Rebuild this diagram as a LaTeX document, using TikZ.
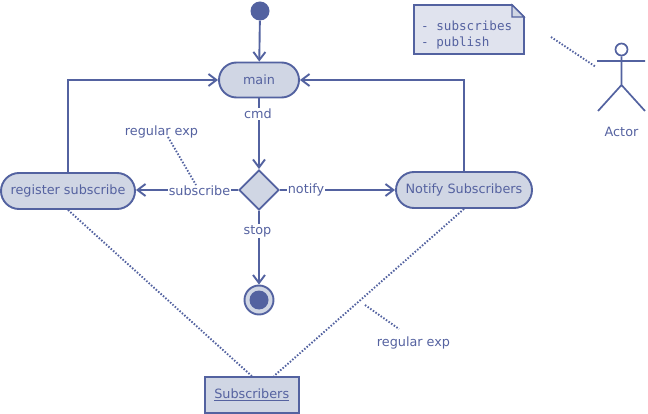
\documentclass[tikz,border=0pt]{standalone}
\usepackage{fontspec}
\setmainfont{DejaVu Sans}
\setmonofont{DejaVu Sans Mono}
\usetikzlibrary{arrows.meta,shapes.misc,shapes.geometric,calc}
\definecolor{umlline}{HTML}{5362A0}
\definecolor{umlfill}{HTML}{D0D6E4}
\definecolor{umlnote}{HTML}{E0E3EE}
\definecolor{umltext}{HTML}{5562A0}
\tikzset{
  x=1pt,y=-1pt,
  every node/.style={text=umltext,font=\fontsize{12.8}{15}\selectfont},
  lane/.style={draw=umlline,line width=1.9pt},
  flow/.style={lane,-{Straight Barb[length=8pt,width=12pt,line width=1.9pt]}},
  dots/.style={draw=umlline,line width=1.9pt,dash pattern=on 1.5pt off 1.7pt},
  activity/.style={rounded rectangle,lane,fill=umlfill,minimum height=36pt,inner sep=0pt},
  edgelabel/.style={inner sep=1pt},
  freelabel/.style={inner sep=0pt},
}
\begin{document}
\begin{tikzpicture}
\useasboundingbox (0,0) rectangle (648,414);
% activities
\node[circle,fill=umlline,minimum size=19pt,inner sep=0pt] (start) at (260,11) {};
\node[activity,minimum width=80pt,minimum height=35pt] (main) at (259,80) {\raisebox{-0.5pt}{main}};
\node[activity,minimum width=134pt] (reg) at (68,191) {\raisebox{-0.5pt}{register subscribe}};
\node[activity,minimum width=136pt] (notify) at (464,190) {\raisebox{-0.5pt}{Notify Subscribers}};
\node[diamond,lane,fill=umlfill,minimum width=40pt,minimum height=40pt,inner sep=0pt] (choice) at (259,190) {};
\node[circle,lane,fill=umlfill,minimum size=29pt,inner sep=0pt] (stopnode) at (259,300) {};
\node[circle,fill=umlline,minimum size=19pt,inner sep=0pt] (stopdot) at (259,300) {};
\node[rectangle,lane,fill=umlfill,minimum width=94pt,minimum height=36pt,inner sep=0pt] (sub) at (251.75,395) {\underline{Subscribers}};
% note
\draw[lane,fill=umlnote,line join=miter] (414,5) -- (512,5) -- (524,17) -- (524,54) -- (414,54) -- cycle;
\draw[draw=umlline,line width=1.4pt,fill=umlfill] (512,5) -- (512,17) -- (524,17) -- cycle;
\node[anchor=north west,align=left,inner sep=0pt,font=\fontsize{12.6}{16}\ttfamily\selectfont] (notetext) at (421,21) {- subscribes\\- publish};
% edge labels
\node[edgelabel] (cmd) at (258,114) {cmd};
\node[edgelabel] (subscribe) at (199.5,190.5) {subscribe};
\node[edgelabel] (notifylab) at (306,189.5) {notify};
\node[edgelabel] (stoplab) at (257.5,231) {stop};
% edges
\draw[flow] (start) -- (main);
\draw[lane] (main.south) -- (main.south |- cmd.north);
\draw[flow] (main.south |- cmd.south) -- (choice.north);
\draw[lane] (choice.west) -- (choice.west -| subscribe.east);
\draw[flow] (choice.west -| subscribe.west) -- (reg.east |- choice.west);
\draw[lane] (choice.east) -- (notifylab.west |- choice.east);
\draw[flow] (notifylab.east |- choice.east) -- (notify.west);
\draw[lane] (choice.south) -- (choice.south |- stoplab.north);
\draw[flow] (choice.south |- stoplab.south) -- (stopnode.north);
\draw[flow] (reg.north) -- (reg.north |- main.west) -- (main.west);
\draw[flow] (notify.north) -- (notify.north |- main.east) -- (main.east);
% dotted links
\coordinate (subright) at (274,376);
\draw[dots] (reg.south) -- (sub.north);
\draw[dots] (notify.south) -- (subright);
% free labels and their dotted leaders
\node[freelabel] (regexpa) at (161.5,132) {regular exp};
\node[freelabel] (regexpb) at (413.5,343) {regular exp};
\coordinate (leadaA) at (168,137);
\coordinate (leadaB) at (196,185);
\coordinate (leadbA) at (365,305);
\coordinate (leadbB) at (399,329);
\draw[dots] (leadaA) -- (leadaB);
\draw[dots] (leadbA) -- (leadbB);
% actor
\node[circle,draw=umlline,line width=1.7pt,minimum size=12pt,inner sep=0pt] (head) at (621.5,49.5) {};
\coordinate (armL) at (597,61);
\coordinate (armR) at (645,61);
\coordinate (hip) at (621.5,85);
\coordinate (legL) at (598,111);
\coordinate (legR) at (645,111);
\draw[lane,line width=1.7pt] (head.south) -- (hip) (armL) -- (armR) (legL) -- (hip) -- (legR);
\node[freelabel] (actorlab) at (621.5,131.5) {Actor};
\coordinate (actA) at (551,37);
\coordinate (actB) at (596,67);
\draw[dots] (actA) -- (actB);
\end{tikzpicture}
\end{document}
